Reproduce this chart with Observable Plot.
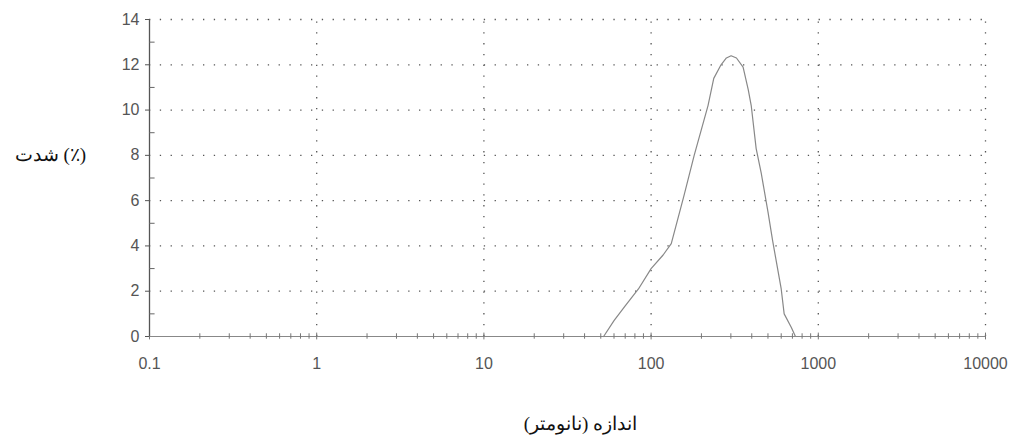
<!DOCTYPE html>
<html>
<head>
<meta charset="utf-8">
<script src="https://cdn.jsdelivr.net/npm/d3@7"></script>
<script src="https://cdn.jsdelivr.net/npm/@observablehq/plot@0.6"></script>
<style>
  html, body { margin: 0; padding: 0; background: #fff; }
</style>
</head>
<body>
<div id="chart"></div>
<script>
// Particle size (nm) and intensity (%)
const sizes = [52, 60, 70, 84, 100, 118, 132, 157, 181, 219, 237, 262, 282, 301, 324, 355, 381, 397, 425, 456, 500, 534, 600, 625, 690, 730];
const intensity = [0, 0.7, 1.35, 2.1, 3.0, 3.6, 4.1, 6.2, 8.0, 10.2, 11.4, 12.0, 12.3, 12.4, 12.3, 11.9, 10.9, 10.2, 8.3, 7.2, 5.5, 4.2, 2.1, 1.0, 0.4, 0];

const xTicks = [0.1, 1, 10, 100, 1000, 10000];
const xTickLabels = ["0.1", "1", "10", "100", "1000", "10000"];
const yTicks = [0, 2, 4, 6, 8, 10, 12, 14];
const yMinorTicks = [1, 3, 5, 7, 9, 11, 13];
const xGrid = [1, 10, 100, 1000, 10000];
const yGrid = [2, 4, 6, 8, 10, 12, 14];

const xLabel = "اندازه (نانومتر)";
const yLabel = "شدت (٪)";

const xMinorTicks = [];
for (const d of [0.1, 1, 10, 100, 1000]) for (let k = 2; k <= 9; k++) xMinorTicks.push(+(d * k).toPrecision(3));

const data = sizes.map((s, i) => ({size: s, value: intensity[i]}));

const chart = Plot.plot({
  width: 1018,
  height: 442,
  marginLeft: 149,
  marginRight: 33,
  marginTop: 19,
  marginBottom: 106,
  style: {fontFamily: "Arial, 'Liberation Sans', sans-serif", fontSize: "16px", color: "#555", background: "#fff"},
  x: {type: "log", domain: [0.1, 10000], ticks: xTicks, tickFormat: d => xTickLabels[xTicks.indexOf(d)] ?? String(d), tickSize: 0, tickPadding: 21, label: null},
  y: {domain: [0, 14], ticks: yTicks, tickSize: 4, tickPadding: 6, label: null},
  marks: [
    Plot.ruleY(yGrid, {stroke: "#555", strokeWidth: 1.3, strokeDasharray: "1.3,9.5"}),
    Plot.ruleX(xGrid, {y1: 0, y2: 14, stroke: "#555", strokeWidth: 1.3, strokeDasharray: "1.3,9.5"}),
    Plot.ruleY([0], {x1: 0.1, x2: 10000, stroke: "#888", strokeWidth: 1}),
    Plot.ruleX(xMinorTicks, {y1: -0.12, y2: 0.12, stroke: "#777", strokeWidth: 1}),
    Plot.ruleX(xTicks, {y1: -0.15, y2: 0.15, stroke: "#777", strokeWidth: 1}),
    Plot.ruleX([0.1], {y1: 0, y2: 14, stroke: "#555", strokeWidth: 1.3}),
    Plot.ruleY(yMinorTicks, {x1: 0.1, x2: 0.108, stroke: "#666", strokeWidth: 1}),
    Plot.line(data, {x: "size", y: "value", stroke: "#888", strokeWidth: 1.2}),
    Plot.text([yLabel], {frameAnchor: "left", y: [8], dx: -99, text: d => d, fontFamily: "'Liberation Serif', 'DejaVu Serif', serif", fontSize: 19, fill: "#111", textAnchor: "middle"}),
    Plot.text([xLabel], {frameAnchor: "bottom", dy: 93, dx: 13, text: d => d, fontFamily: "'Liberation Serif', 'DejaVu Serif', serif", fontSize: 19, fill: "#111", textAnchor: "middle"})
  ]
});
document.getElementById("chart").appendChild(chart);
</script>
</body>
</html>
